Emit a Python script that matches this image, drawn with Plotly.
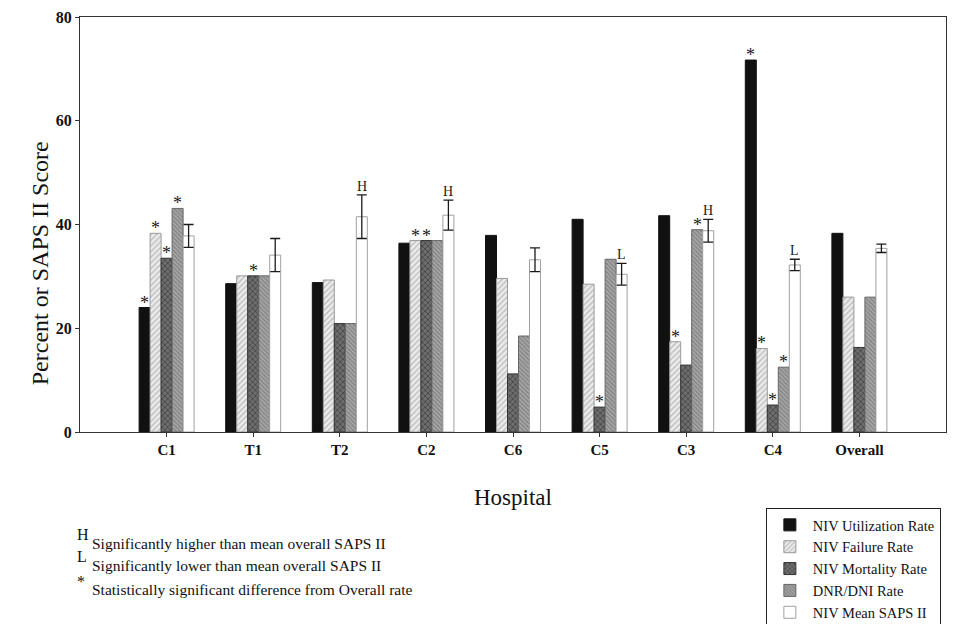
import plotly.graph_objects as go

# ---- data ----
categories = ["C1", "T1", "T2", "C2", "C6", "C5", "C3", "C4", "Overall"]
utilization = [24.0, 28.6, 28.8, 36.4, 37.9, 41.0, 41.7, 71.7, 38.3]
failure = [38.3, 30.1, 29.3, 36.9, 29.6, 28.5, 17.4, 16.1, 26.0]
mortality = [33.5, 30.1, 20.9, 36.9, 11.2, 4.8, 12.9, 5.2, 16.3]
dnr_dni = [43.1, 30.1, 20.9, 36.9, 18.5, 33.3, 39.0, 12.5, 26.0]
saps_mean = [37.8, 34.1, 41.5, 41.8, 33.2, 30.4, 38.8, 32.2, 35.4]
saps_err = [2.2, 3.2, 4.2, 2.9, 2.3, 2.1, 2.2, 1.1, 0.8]

# significance markers ("*" = statistically significant difference from Overall)
util_sig = [1, 0, 0, 0, 0, 0, 0, 1, 0]
failure_sig = [1, 0, 0, 1, 0, 0, 1, 1, 0]
mortality_sig = [1, 1, 0, 1, 0, 1, 0, 1, 0]
dnr_sig = [1, 0, 0, 0, 0, 0, 1, 1, 0]
saps_flag = ["", "", "H", "H", "", "L", "H", "L", ""]

series_names = ["NIV Utilization Rate", "NIV Failure Rate", "NIV Mortality Rate",
                "DNR/DNI Rate", "NIV Mean SAPS II"]
note_symbols = ["H", "L", "*"]
note_texts = ["Significantly higher than mean overall SAPS II",
              "Significantly lower than mean overall SAPS II",
              "Statistically significant difference from Overall rate"]

SERIF = "Liberation Serif, Times New Roman, serif"
BARGAP = 0.365
x = list(range(len(categories)))

fig = go.Figure()

fig.add_trace(go.Bar(
    name=series_names[0], x=x, y=utilization,
    marker=dict(color="#111111", line=dict(color="#111111", width=1)),
))
fig.add_trace(go.Bar(
    name=series_names[1], x=x, y=failure,
    marker=dict(color="#e6e6e6", line=dict(color="#9a9a9a", width=1),
                pattern=dict(shape="/", fgcolor="#8c8c8c", bgcolor="#ececec",
                             size=4, solidity=0.35)),
))
fig.add_trace(go.Bar(
    name=series_names[2], x=x, y=mortality,
    marker=dict(color="#555555", line=dict(color="#333333", width=1),
                pattern=dict(shape="x", fgcolor="#1e1e1e", bgcolor="#6e6e6e",
                             size=4, solidity=0.4)),
))
fig.add_trace(go.Bar(
    name=series_names[3], x=x, y=dnr_dni,
    marker=dict(color="#8a8a8a", line=dict(color="#666666", width=1),
                pattern=dict(shape="\\", fgcolor="#5c5c5c", bgcolor="#a8a8a8",
                             size=3, solidity=0.45)),
))
fig.add_trace(go.Bar(
    name=series_names[4], x=x, y=saps_mean,
    marker=dict(color="#ffffff", line=dict(color="#a0a0a0", width=1)),
    error_y=dict(type="data", array=saps_err, visible=True,
                 color="#1a1a1a", thickness=1.3, width=5),
))

# ---- significance annotations above bars ----
w = (1 - BARGAP) / 5
annotations = []
star_series = [(utilization, util_sig), (failure, failure_sig),
               (mortality, mortality_sig), (dnr_dni, dnr_sig)]
for j, (vals, sig) in enumerate(star_series):
    for i, (v, s) in enumerate(zip(vals, sig)):
        if s:
            annotations.append(dict(
                x=i + (j - 2) * w, y=v, xref="x", yref="y", text="*",
                showarrow=False, yanchor="bottom", xanchor="center", yshift=-7,
                font=dict(family=SERIF, size=18, color="#1a1a1a")))
for i, (v, e, f) in enumerate(zip(saps_mean, saps_err, saps_flag)):
    if f:
        annotations.append(dict(
            x=i + 2 * w, y=v + e, xref="x", yref="y", text=f,
            showarrow=False, yanchor="bottom", xanchor="center", yshift=-1,
            font=dict(family=SERIF, size=14, color="#1a1a1a")))

# ---- axis titles ----
annotations.append(dict(
    x=0.5, y=-0.157, xref="paper", yref="paper", text="Hospital",
    showarrow=False, xanchor="center", yanchor="middle",
    font=dict(family=SERIF, size=23, color="#111111")))
annotations.append(dict(
    x=-0.046, y=0.407, xref="paper", yref="paper", text="Percent or SAPS II Score",
    showarrow=False, xanchor="center", yanchor="middle", textangle=-90,
    font=dict(family=SERIF, size=24, color="#111111")))

# ---- notes ----
sym_y = [-0.248, -0.301, -0.361]
txt_y = [-0.2675, -0.3205, -0.3807]
for sym, txt, sy, ty in zip(note_symbols, note_texts, sym_y, txt_y):
    annotations.append(dict(
        x=-0.006, y=sy, xref="paper", yref="paper", text=sym, showarrow=False,
        xanchor="left", yanchor="middle",
        font=dict(family=SERIF, size=16, color="#111111")))
    annotations.append(dict(
        x=0.0115, y=ty, xref="paper", yref="paper", text=txt, showarrow=False,
        xanchor="left", yanchor="middle",
        font=dict(family=SERIF, size=15.5, color="#111111")))

fig.update_layout(
    width=963, height=624,
    margin=dict(l=80, r=17, t=17, b=192, autoexpand=False),
    paper_bgcolor="white", plot_bgcolor="white",
    barmode="group", bargap=BARGAP, bargroupgap=0,
    showlegend=True,
    legend=dict(x=0.792, y=-0.183, xanchor="left", yanchor="top",
                bordercolor="#222222", borderwidth=1, bgcolor="white",
                font=dict(family=SERIF, size=14.5, color="#111111"),
                itemwidth=36, tracegroupgap=0, traceorder="normal"),
    annotations=annotations,
    font=dict(family=SERIF, color="#111111"),
)
fig.update_xaxes(
    range=[-1, 9], tickmode="array", tickvals=x, ticktext=categories,
    showline=True, linecolor="#333333", linewidth=1, mirror=True,
    ticks="outside", ticklen=4, tickcolor="#333333", showgrid=False, zeroline=False,
    tickfont=dict(family=SERIF, size=15, weight="bold", color="#111111"),
)
fig.update_yaxes(
    range=[0, 80], tickmode="linear", tick0=0, dtick=20,
    showline=True, linecolor="#333333", linewidth=1, mirror=True,
    ticks="outside", ticklen=4, tickcolor="#333333", showgrid=False, zeroline=False,
    tickfont=dict(family=SERIF, size=16, weight="bold", color="#111111"),
)

fig.write_html("out.html",
               config={"displayModeBar": False},
               post_script="document.body.style.margin='0';"
                           "document.body.style.overflow='hidden';")
